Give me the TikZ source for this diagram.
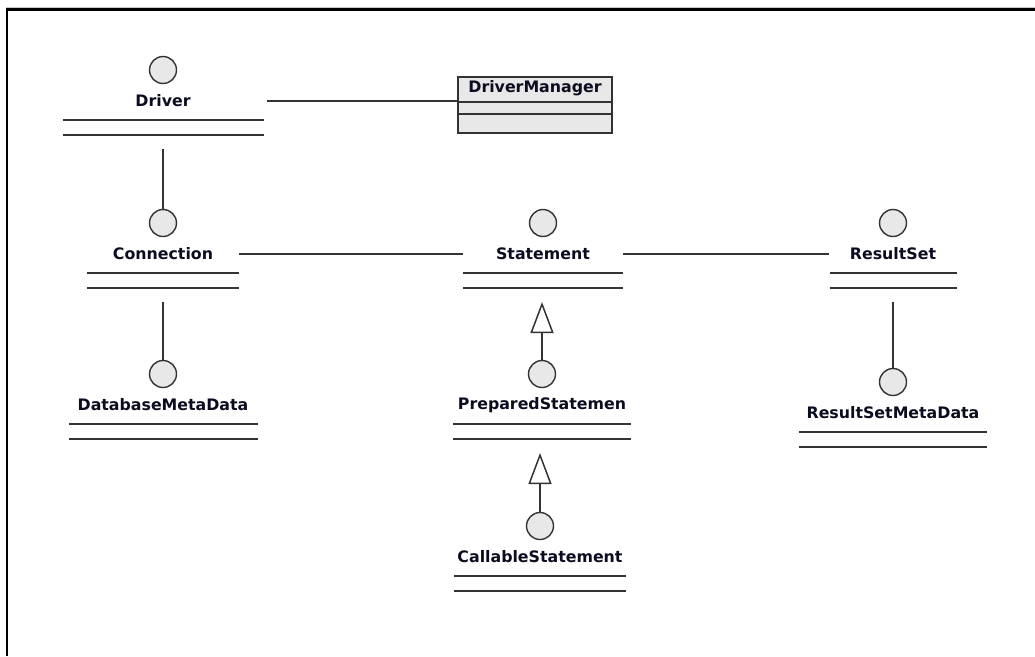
\documentclass[tikz,border=0pt]{standalone}
\usepackage{fontspec}
\setmainfont{DejaVu Sans}
\usetikzlibrary{arrows.meta,calc}
\definecolor{umlline}{HTML}{333333}
\definecolor{umlfill}{HTML}{E8E8E8}
\definecolor{umltext}{HTML}{0C0C20}

% A UML interface: lollipop circle, bold name and two empty compartments
\newcommand\umliface[4]{%
  \node[classname, minimum width=#3] (#1) at #2 {#4};
  \node[compart, minimum width=#3] (#1b) at ($(#1.center)+(0,18.5)$) {};
  \draw[rule] (#1b.north west) -- (#1b.north east)
              (#1b.south west) -- (#1b.south east);
  \node[iface] (#1c) at ($(#1.center)+(0,-31)$) {};
}

\begin{document}
\begin{tikzpicture}[x=1pt,y=-1pt,
  classname/.style={inner sep=0pt, minimum height=16pt, text=umltext,
    font=\fontsize{15.8}{18}\selectfont\bfseries},
  compart/.style={inner sep=0pt, outer sep=0pt, minimum height=15pt, anchor=north},
  iface/.style={circle, draw=umlline, fill=umlfill, line width=1.4pt,
    minimum size=27pt, inner sep=0pt},
  link/.style={draw=umlline, line width=1.7pt},
  rule/.style={draw=umlline, line width=2pt},
  assoc/.style={link, shorten <=14.5pt},
  inherit/.style={link, shorten >=14.5pt,
    -{Triangle[open, length=31pt, width=23pt, line width=1.5pt]}},
]
\useasboundingbox (0,0) rectangle (1035,656);

% frame
\draw[gray!45, line width=1pt] (6,7.5) -- (1035,7.5);
\draw[black, line width=2.6pt] (7,656) -- (7,9.2) -- (1035,9.2);

% interfaces
\umliface{drv}{(163,101)}{201pt}{Driver}
\umliface{con}{(163,254)}{152pt}{Connection}
\umliface{stmt}{(543,254)}{160pt}{Statement}
\umliface{rs}{(893,254)}{127pt}{ResultSet}
\umliface{dmd}{(163,405)}{189pt}{DatabaseMetaData}
\umliface{prep}{(542,405)}{178pt}{PreparedStatemen}
\umliface{rsmd}{(893,413)}{188pt}{ResultSetMetaData}
\umliface{call}{(540,557)}{172pt}{CallableStatement}

% DriverManager class box
\node[draw=umlline, fill=umlfill, line width=2pt, inner sep=0pt,
      minimum width=154pt, minimum height=56pt] (dm) at (535,105) {};
\node[classname] (dmn) at (535,88.5) {DriverManager};
\draw[rule] (dm.west |- 0,101.5) -- (dm.east |- 0,101.5)
            (dm.west |- 0,114) -- (dm.east |- 0,114);

% associations
\draw[link] ([xshift=3pt]drv.east) -- (drv.east -| dm.west);
\draw[link] (con.east) -- (stmt.west);
\draw[link] (stmt.east) -- (rs.west);
\draw[assoc] (drvb.south) -- (conc.north);
\draw[assoc] (conb.south) -- (dmdc.north);
\draw[assoc] (rsb.south) -- (rsmdc.north);

% generalizations
\draw[inherit] (prepc.north) -- (prepc.north |- stmtb.south);
\draw[inherit] (callc.north) -- (callc.north |- prepb.south);
\end{tikzpicture}
\end{document}
